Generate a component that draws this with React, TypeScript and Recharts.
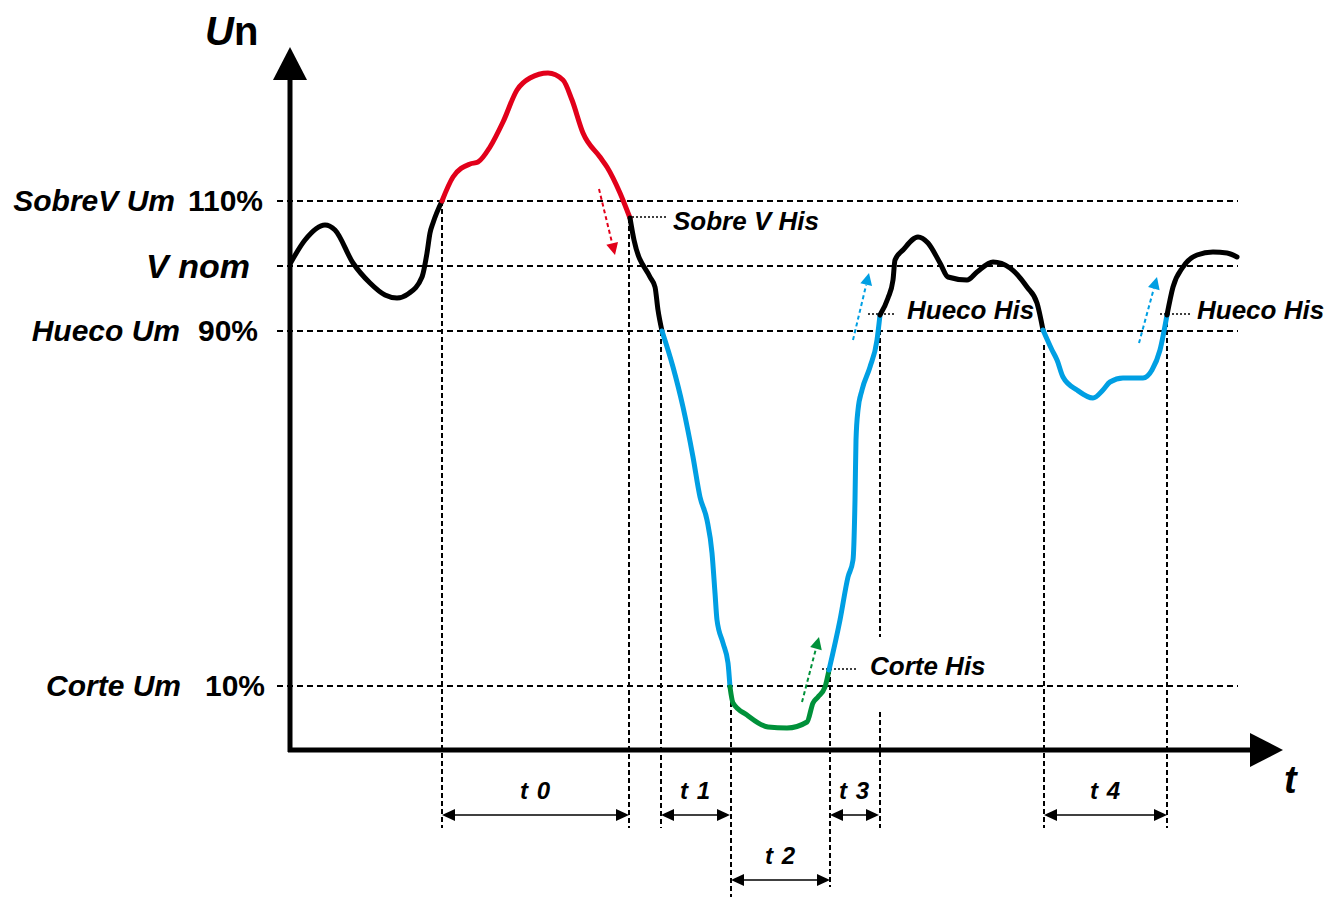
import { LineChart, Line, XAxis, YAxis, ReferenceLine } from 'recharts';

const FONT = '"Liberation Sans", Arial, Helvetica, sans-serif';

// t: time units along the x axis, u: level units (x axis sits at u = 0)
const blackStart = [
  { t: 0, u: 486 }, { t: 15, u: 510 }, { t: 35, u: 525 }, { t: 45, u: 520 },
  { t: 63, u: 487 }, { t: 80, u: 467 }, { t: 95, u: 455 }, { t: 107, u: 452 },
  { t: 118, u: 456 }, { t: 132, u: 473 }, { t: 137, u: 497 }, { t: 140, u: 517 },
  { t: 143, u: 527 }, { t: 152, u: 549 },
];
const redOver = [
  { t: 152, u: 549 }, { t: 163, u: 573 }, { t: 180, u: 586 }, { t: 188, u: 588 },
  { t: 200, u: 603 }, { t: 213, u: 628 }, { t: 227, u: 660 }, { t: 240, u: 672 },
  { t: 258, u: 677 }, { t: 273, u: 670 }, { t: 282, u: 650 }, { t: 293, u: 617 },
  { t: 310, u: 593 }, { t: 317, u: 583 }, { t: 330, u: 557 }, { t: 340, u: 532 },
];
const blackFall = [
  { t: 340, u: 532 }, { t: 344, u: 510 }, { t: 360, u: 473 }, { t: 365, u: 463 },
  { t: 368, u: 440 }, { t: 372, u: 419 },
];
const blueDip = [
  { t: 372, u: 419 }, { t: 383, u: 383 }, { t: 393, u: 343 }, { t: 403, u: 293 },
  { t: 410, u: 253 }, { t: 417, u: 230 }, { t: 422, u: 197 }, { t: 425, u: 157 },
  { t: 427, u: 130 }, { t: 433, u: 107 }, { t: 438, u: 87 }, { t: 440, u: 63 },
];
const greenCut = [
  { t: 440, u: 63 }, { t: 443, u: 47 }, { t: 457, u: 35 }, { t: 478, u: 23 },
  { t: 497, u: 22 }, { t: 517, u: 28 }, { t: 523, u: 47 }, { t: 528, u: 53 },
  { t: 535, u: 63 }, { t: 539, u: 80 },
];
const blueRise = [
  { t: 539, u: 80 }, { t: 550, u: 130 }, { t: 558, u: 173 }, { t: 563, u: 190 },
  { t: 565, u: 250 }, { t: 566, u: 310 }, { t: 568, u: 340 }, { t: 572, u: 360 },
  { t: 580, u: 383 }, { t: 587, u: 410 }, { t: 590, u: 435 },
];
const blackMid = [
  { t: 590, u: 435 }, { t: 598, u: 452 }, { t: 603, u: 470 }, { t: 605, u: 490 },
  { t: 613, u: 500 }, { t: 628, u: 513 }, { t: 638, u: 507 }, { t: 650, u: 487 },
  { t: 658, u: 473 }, { t: 677, u: 470 }, { t: 687, u: 478 }, { t: 703, u: 488 },
  { t: 720, u: 482 }, { t: 737, u: 463 }, { t: 747, u: 447 }, { t: 753, u: 420 },
];
const blueSag = [
  { t: 753, u: 420 }, { t: 762, u: 400 }, { t: 767, u: 390 }, { t: 773, u: 373 },
  { t: 787, u: 360 }, { t: 803, u: 352 }, { t: 813, u: 360 }, { t: 820, u: 368 },
  { t: 833, u: 372 }, { t: 853, u: 372 }, { t: 862, u: 380 }, { t: 870, u: 400 },
  { t: 877, u: 435 },
];
const blackEnd = [
  { t: 877, u: 435 }, { t: 883, u: 463 }, { t: 893, u: 483 }, { t: 907, u: 495 },
  { t: 923, u: 498 }, { t: 937, u: 497 }, { t: 947, u: 493 },
];

// threshold levels
const levelTicks = [64, 419, 484, 549];
const levelNames = ['Corte Um', 'Hueco Um', 'V nom', 'SobreV Um'];
const levelPercents = ['10%', '90%', '', '110%'];

// vertical guides
const guideT = [152, 339, 371, 441, 540, 590, 590, 754, 877];
const guideFrom = [549, 532, 419, 64, 81, 436, 38, 405, 436];
const guideTo = [-78, -78, -78, -147, -137, 113, -78, -78, -78];

// durations
const durLabels = ['t 0', 't 1', 't 2', 't 3', 't 4'];
const durStart = [152, 371, 441, 540, 754];
const durEnd = [339, 440, 540, 589, 877];
const durLevel = [-65, -65, -130, -65, -65];

// hysteresis notes
const notes = ['Sobre V His', 'Hueco His', 'Hueco His', 'Corte His'];
const noteStart = [342, 578, 870, 532];
const noteEnd = [378, 605, 900, 568];
const noteLevel = [533, 436, 436, 81];

// small dashed hint arrows
const hintFrom = [[309, 561], [563, 410], [849, 407], [512, 48]];
const hintTo = [[325, 495], [579, 477], [867, 473], [529, 113]];

const RED = '#e2001a';
const BLUE = '#009fe3';
const GREEN = '#00913a';

const segments = [
  { data: blackStart, color: '#000' },
  { data: redOver, color: RED },
  { data: blackFall, color: '#000' },
  { data: blueDip, color: BLUE },
  { data: greenCut, color: GREEN },
  { data: blueRise, color: BLUE },
  { data: blackMid, color: '#000' },
  { data: blueSag, color: BLUE },
  { data: blackEnd, color: '#000' },
];
const hintColors = [RED, BLUE, BLUE, GREEN];
const noteDy = [13, 5, 5, 6];
const noteGap = [5, 12, 7, 12];

function LevelTick(props: any) {
  const { x, y, payload } = props;
  const i = levelTicks.indexOf(payload.value);
  const nameEnd = [-109, -110, -40, -115][i];
  const pctEnd = [-25, -32, 0, -27][i];
  const big = levelNames[i] === 'V nom';
  return (
    <g fontFamily={FONT} fontWeight="bold" fill="#000">
      <text x={x + nameEnd} y={y + (big ? 12 : 10)} textAnchor="end" fontStyle="italic" fontSize={big ? 34 : 30}>
        {levelNames[i]}
      </text>
      {levelPercents[i] && (
        <text x={x + pctEnd} y={y + 10} textAnchor="end" fontSize={30}>
          {levelPercents[i]}
        </text>
      )}
    </g>
  );
}

const dimShape = (label: string) => (p: any) => {
  const { x1, y1, x2, y2 } = p;
  return (
    <g>
      <line x1={x1 + 8} y1={y1} x2={x2 - 8} y2={y2} stroke="#000" strokeWidth={1.5} />
      <polygon points={`${x1},${y1} ${x1 + 13},${y1 - 6} ${x1 + 13},${y1 + 6}`} fill="#000" />
      <polygon points={`${x2},${y2} ${x2 - 13},${y2 - 6} ${x2 - 13},${y2 + 6}`} fill="#000" />
      <text x={(x1 + x2) / 2} y={y1 - 16} textAnchor="middle" fontFamily={FONT} fontWeight="bold"
        fontStyle="italic" fontSize={24} letterSpacing={1}>{label}</text>
    </g>
  );
};

const hintShape = (color: string) => (p: any) => {
  const { x1, y1, x2, y2 } = p;
  const a = Math.atan2(y2 - y1, x2 - x1);
  const L = 12;
  const W = 6;
  const bx = x2 - L * Math.cos(a);
  const by = y2 - L * Math.sin(a);
  const nx = -Math.sin(a) * W;
  const ny = Math.cos(a) * W;
  return (
    <g>
      <line x1={x1} y1={y1} x2={bx} y2={by} stroke={color} strokeWidth={2} strokeDasharray="4 3" />
      <polygon points={`${x2},${y2} ${bx + nx},${by + ny} ${bx - nx},${by - ny}`} fill={color} />
    </g>
  );
};

const noteShape = (label: string, dy: number, gap: number) => (p: any) => {
  const { x1, y1, x2, y2 } = p;
  return (
    <g>
      <line x1={x1} y1={y1} x2={x2} y2={y2} stroke="#000" strokeWidth={1.5} strokeDasharray="2 2" />
      <text x={x2 + gap} y={y2 + dy} fontFamily={FONT} fontWeight="bold" fontStyle="italic" fontSize={26}>
        {label}
      </text>
    </g>
  );
};

const axisShape = (vertical: boolean) => (p: any) => {
  const { x1, y1, x2, y2 } = p;
  const H = 33;
  const W = 17;
  if (vertical) {
    return (
      <g>
        <line x1={x1} y1={y1} x2={x2} y2={y2 + H} stroke="#000" strokeWidth={5} />
        <polygon points={`${x2},${y2} ${x2 - W},${y2 + H} ${x2 + W},${y2 + H}`} fill="#000" />
        <text x={x2 - 85} y={y2 - 2} fontFamily={FONT} fontWeight="bold" fontSize={40}>
          <tspan fontStyle="italic">U</tspan>n
        </text>
      </g>
    );
  }
  return (
    <g>
      <line x1={x1} y1={y1} x2={x2 - H} y2={y2} stroke="#000" strokeWidth={5} />
      <polygon points={`${x2},${y2} ${x2 - H},${y2 - W} ${x2 - H},${y2 + W}`} fill="#000" />
      <text x={x2 + 1} y={y2 + 43} fontFamily={FONT} fontWeight="bold" fontStyle="italic" fontSize={38}>t</text>
    </g>
  );
};

function App() {
  return (
    <div style={{ position: 'absolute', left: 0, top: 0, background: '#fff' }}>
      <LineChart width={1342} height={899} margin={{ top: 50, right: 52, bottom: 149, left: 10 }}>
        <XAxis dataKey="t" type="number" domain={[0, 1000]} hide allowDataOverflow />
        <YAxis
          type="number"
          domain={[0, 700]}
          ticks={levelTicks}
          interval={0}
          width={280}
          axisLine={false}
          tickLine={false}
          tickSize={0}
          tickMargin={0}
          allowDataOverflow
          tick={(p: any) => <LevelTick {...p} />}
        />
        {levelTicks.map((lv) => (
          <ReferenceLine
            key={`lv${lv}`}
            segment={[{ x: -13, y: lv }, { x: 948, y: lv }]}
            ifOverflow="visible"
            stroke="#000"
            strokeWidth={2}
            strokeDasharray="6 4"
          />
        ))}
        {guideT.map((t, i) => (
          <ReferenceLine
            key={`g${i}`}
            segment={[{ x: t, y: guideFrom[i] }, { x: t, y: guideTo[i] }]}
            ifOverflow="visible"
            stroke="#000"
            strokeWidth={2}
            strokeDasharray="5 3"
          />
        ))}
        {durLabels.map((lab, i) => (
          <ReferenceLine
            key={`d${i}`}
            segment={[{ x: durStart[i], y: durLevel[i] }, { x: durEnd[i], y: durLevel[i] }]}
            ifOverflow="visible"
            shape={dimShape(lab)}
          />
        ))}
        {notes.map((n, i) => (
          <ReferenceLine
            key={`n${i}`}
            segment={[{ x: noteStart[i], y: noteLevel[i] }, { x: noteEnd[i], y: noteLevel[i] }]}
            ifOverflow="visible"
            shape={noteShape(n, noteDy[i], noteGap[i])}
          />
        ))}
        {hintFrom.map((f, i) => (
          <ReferenceLine
            key={`h${i}`}
            segment={[{ x: f[0], y: f[1] }, { x: hintTo[i][0], y: hintTo[i][1] }]}
            ifOverflow="visible"
            shape={hintShape(hintColors[i])}
          />
        ))}
        <ReferenceLine segment={[{ x: 0, y: -2 }, { x: 0, y: 703 }]} ifOverflow="visible" shape={axisShape(true)} />
        <ReferenceLine segment={[{ x: -2, y: 0 }, { x: 993, y: 0 }]} ifOverflow="visible" shape={axisShape(false)} />
        {segments.map((s, i) => (
          <Line
            key={`s${i}`}
            data={s.data}
            dataKey="u"
            type="monotone"
            stroke={s.color}
            strokeWidth={5}
            strokeLinecap="round"
            strokeLinejoin="round"
            dot={false}
            activeDot={false}
            isAnimationActive={false}
          />
        ))}
      </LineChart>
    </div>
  );
}

export default App;
